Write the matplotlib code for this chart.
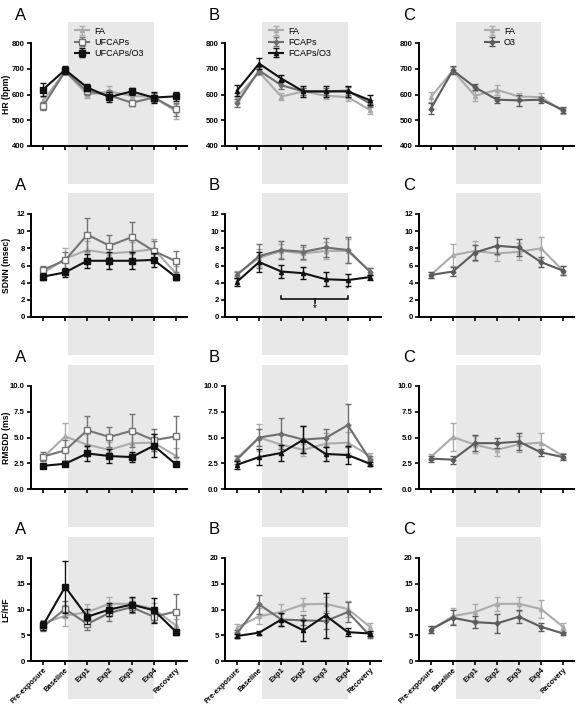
import numpy as np
import matplotlib
matplotlib.use("Agg")
import matplotlib.pyplot as plt

plt.rcParams['font.family'] = ['Liberation Sans', 'DejaVu Sans']

timepoints = ['Pre-exposure', 'Baseline', 'Exp1', 'Exp2', 'Exp3', 'Exp4', 'Recovery']
row_ylabels = ['HR (bpm)', 'SDNN (msec)', 'RMSDD (ms)', 'LF/HF']
row_yticks = [[400, 500, 600, 700, 800], [0, 2, 4, 6, 8, 10, 12],
              [0.0, 2.5, 5.0, 7.5, 10.0], [0, 5, 10, 15, 20]]
row_yticklabels = [['400', '500', '600', '700', '800'],
                   ['0', '2', '4', '6', '8', '10', '12'],
                   ['0.0', '2.5', '5.0', '7.5', '10.0'],
                   ['0', '5', '10', '15', '20']]
col_letters = ['A', 'B', 'C']
col_labels = [['FA', 'UFCAPs', 'UFCAPs/O3'], ['FA', 'FCAPs', 'FCAPs/O3'], ['FA', 'O3']]

# ---- HR
hr_A_fa = [575, 690, 600, 612, 595, 590, 535]
hr_A_fa_e = [15, 15, 15, 22, 15, 15, 30]
hr_A_uf = [554, 690, 612, 597, 568, 588, 542]
hr_A_uf_e = [15, 12, 15, 20, 12, 18, 25]
hr_A_ufo3 = [619, 696, 627, 590, 612, 588, 593]
hr_A_ufo3_e = [25, 15, 15, 20, 15, 20, 18]
hr_B_fa = [590, 687, 592, 612, 595, 590, 540]
hr_B_fa_e = [15, 12, 15, 15, 12, 15, 15]
hr_B_f = [566, 693, 636, 612, 612, 615, 565]
hr_B_f_e = [15, 15, 15, 15, 15, 15, 15]
hr_B_fo3 = [615, 720, 662, 612, 612, 612, 578]
hr_B_fo3_e = [20, 22, 15, 20, 22, 20, 20]
hr_C_fa = [590, 693, 595, 618, 592, 590, 535]
hr_C_fa_e = [20, 15, 20, 18, 12, 15, 12]
hr_C_o3 = [545, 694, 628, 580, 577, 580, 540]
hr_C_o3_e = [22, 15, 12, 12, 20, 12, 12]

# ---- SDNN
sd_A_fa = [5.1, 6.8, 7.8, 7.4, 7.6, 7.9, 5.1]
sd_A_fa_e = [0.5, 1.2, 1.0, 1.2, 1.1, 1.2, 0.8]
sd_A_uf = [5.5, 6.6, 9.6, 8.3, 9.3, 7.7, 6.5]
sd_A_uf_e = [0.4, 1.0, 1.9, 1.3, 1.8, 1.2, 1.2]
sd_A_ufo3 = [4.7, 5.2, 6.55, 6.55, 6.55, 6.65, 4.65]
sd_A_ufo3_e = [0.4, 0.5, 0.8, 1.0, 1.0, 0.8, 0.3]
sd_B_fa = [5.0, 6.9, 7.7, 7.4, 7.7, 7.7, 5.3]
sd_B_fa_e = [0.4, 1.0, 0.8, 0.8, 1.0, 1.4, 0.4]
sd_B_f = [4.9, 7.1, 7.8, 7.6, 8.1, 7.8, 5.3]
sd_B_f_e = [0.4, 1.4, 1.1, 0.8, 1.1, 1.5, 0.4]
sd_B_fo3 = [4.1, 6.4, 5.3, 5.1, 4.4, 4.3, 4.65]
sd_B_fo3_e = [0.5, 1.2, 0.8, 0.7, 0.8, 0.7, 0.3]
sd_C_fa = [4.9, 7.2, 7.7, 7.4, 7.6, 8.0, 5.4]
sd_C_fa_e = [0.4, 1.3, 1.2, 0.9, 1.0, 1.3, 0.5]
sd_C_o3 = [4.9, 5.3, 7.5, 8.3, 8.1, 6.4, 5.4]
sd_C_o3_e = [0.4, 0.5, 0.9, 1.0, 1.0, 0.6, 0.5]

# ---- RMSSD
rm_A_fa = [3.05, 5.1, 4.3, 3.8, 4.45, 4.5, 3.2]
rm_A_fa_e = [0.3, 1.35, 1.0, 0.8, 1.0, 0.8, 0.8]
rm_A_uf = [3.15, 3.75, 5.7, 5.05, 5.65, 4.75, 5.1]
rm_A_uf_e = [0.4, 1.0, 1.4, 1.0, 1.6, 1.1, 2.0]
rm_A_ufo3 = [2.25, 2.45, 3.45, 3.2, 3.1, 4.2, 2.4]
rm_A_ufo3_e = [0.2, 0.25, 0.7, 0.7, 0.5, 1.1, 0.2]
rm_B_fa = [3.0, 5.0, 4.3, 3.8, 4.4, 4.5, 3.2]
rm_B_fa_e = [0.3, 1.3, 1.0, 0.6, 1.0, 1.0, 0.3]
rm_B_f = [2.85, 5.0, 5.35, 4.8, 4.95, 6.2, 2.85]
rm_B_f_e = [0.4, 0.8, 1.5, 1.3, 0.9, 2.1, 0.4]
rm_B_fo3 = [2.35, 3.1, 3.5, 4.8, 3.4, 3.3, 2.45]
rm_B_fo3_e = [0.4, 0.8, 0.8, 1.3, 0.7, 0.9, 0.2]
rm_C_fa = [3.1, 5.05, 4.3, 3.8, 4.35, 4.5, 3.2]
rm_C_fa_e = [0.3, 1.4, 0.8, 0.6, 0.8, 0.9, 0.3]
rm_C_o3 = [2.95, 2.85, 4.45, 4.45, 4.6, 3.55, 3.1]
rm_C_o3_e = [0.3, 0.4, 0.8, 0.5, 0.8, 0.3, 0.3]

# ---- LF/HF
lf_A_fa = [7.3, 8.8, 9.5, 11.1, 11.1, 10.1, 6.9]
lf_A_fa_e = [0.6, 2.0, 1.5, 1.3, 1.2, 1.2, 1.2]
lf_A_uf = [6.65, 10.1, 7.2, 9.35, 10.45, 8.6, 9.6]
lf_A_uf_e = [0.8, 1.6, 1.2, 1.5, 1.2, 1.0, 3.5]
lf_A_ufo3 = [6.9, 14.4, 8.6, 10.0, 10.95, 9.85, 5.7]
lf_A_ufo3_e = [0.8, 5.0, 1.5, 1.2, 1.5, 2.4, 0.6]
lf_B_fa = [6.45, 8.7, 9.5, 11.0, 11.1, 10.1, 6.65]
lf_B_fa_e = [0.8, 1.5, 1.5, 1.3, 1.3, 1.5, 0.8]
lf_B_f = [5.35, 11.0, 8.05, 7.9, 7.75, 9.5, 4.95]
lf_B_f_e = [0.6, 1.9, 1.2, 1.0, 1.5, 2.0, 0.5]
lf_B_fo3 = [4.85, 5.5, 8.05, 5.95, 8.85, 5.6, 5.35]
lf_B_fo3_e = [0.4, 0.4, 1.2, 2.0, 4.3, 0.8, 0.5]
lf_C_fa = [6.1, 8.7, 9.5, 11.1, 11.1, 10.1, 6.65]
lf_C_fa_e = [0.7, 1.6, 1.5, 1.3, 1.3, 1.7, 0.7]
lf_C_o3 = [6.1, 8.4, 7.55, 7.3, 8.6, 6.65, 5.35]
lf_C_o3_e = [0.7, 1.5, 1.2, 1.8, 1.3, 0.8, 0.3]

data = [
    [[(hr_A_fa, hr_A_fa_e), (hr_A_uf, hr_A_uf_e), (hr_A_ufo3, hr_A_ufo3_e)],
     [(hr_B_fa, hr_B_fa_e), (hr_B_f, hr_B_f_e), (hr_B_fo3, hr_B_fo3_e)],
     [(hr_C_fa, hr_C_fa_e), (hr_C_o3, hr_C_o3_e)]],
    [[(sd_A_fa, sd_A_fa_e), (sd_A_uf, sd_A_uf_e), (sd_A_ufo3, sd_A_ufo3_e)],
     [(sd_B_fa, sd_B_fa_e), (sd_B_f, sd_B_f_e), (sd_B_fo3, sd_B_fo3_e)],
     [(sd_C_fa, sd_C_fa_e), (sd_C_o3, sd_C_o3_e)]],
    [[(rm_A_fa, rm_A_fa_e), (rm_A_uf, rm_A_uf_e), (rm_A_ufo3, rm_A_ufo3_e)],
     [(rm_B_fa, rm_B_fa_e), (rm_B_f, rm_B_f_e), (rm_B_fo3, rm_B_fo3_e)],
     [(rm_C_fa, rm_C_fa_e), (rm_C_o3, rm_C_o3_e)]],
    [[(lf_A_fa, lf_A_fa_e), (lf_A_uf, lf_A_uf_e), (lf_A_ufo3, lf_A_ufo3_e)],
     [(lf_B_fa, lf_B_fa_e), (lf_B_f, lf_B_f_e), (lf_B_fo3, lf_B_fo3_e)],
     [(lf_C_fa, lf_C_fa_e), (lf_C_o3, lf_C_o3_e)]],
]

# significance bracket in SDNN panel B (Exp1..Exp4)
sig_from, sig_to, sig_y = 2, 5, 2.1

# styles per column: (color, marker, facecolor, size)
styles = [
    [('#ababab', '^', '#ababab', 3), ('#747474', 's', 'white', 4), ('#111111', 's', '#111111', 4)],
    [('#ababab', '^', '#ababab', 3), ('#6e6e6e', 'D', '#6e6e6e', 2.5), ('#111111', '^', '#111111', 3)],
    [('#ababab', '^', '#ababab', 3), ('#5c5c5c', 'D', '#5c5c5c', 2.5)],
]

W, H = 582, 704
fig = plt.figure(figsize=(W / 100, H / 100), dpi=100)
col_left = [31, 225, 419]
col_w = [156, 156, 155]
row_top = [43, 214, 386, 558]
ax_h = 103
leg_x = [75, 269, 485]

x = np.arange(len(timepoints))
for r in range(4):
    for c in range(3):
        ax = fig.add_axes([col_left[c] / W, 1 - (row_top[r] + ax_h) / H, col_w[c] / W, ax_h / H])
        ax.patch.set_alpha(0)
        ax.axvspan(1.13, 5.0, ymin=-0.37, ymax=1.2, color='#e8e8e8', lw=0, zorder=0, clip_on=False)
        lines = []
        for k, (vals, errs) in enumerate(data[r][c]):
            col, mk, fc, ms = styles[c][k]
            eb = ax.errorbar(x, vals, yerr=errs, color=col, marker=mk, mfc=fc, mec=col, ms=ms,
                             lw=1.5, elinewidth=1, capsize=2, capthick=1, zorder=3 + k)
            lines.append(eb)
        yt = row_yticks[r]
        ax.set_ylim(yt[0], yt[-1])
        ax.set_yticks(yt)
        ax.set_yticklabels(row_yticklabels[r], fontsize=5.6, fontweight='bold')
        ax.set_xlim(-0.54, 6.5)
        ax.set_xticks(x)
        if r == 3:
            ax.set_xticklabels(timepoints, rotation=45, ha='right', rotation_mode='anchor',
                               fontsize=5.4, fontweight='bold')
        else:
            ax.set_xticklabels([])
        ax.tick_params(length=3, width=1.2, pad=1.5)
        ax.tick_params(axis='x', pad=1)
        for s in ['top', 'right']:
            ax.spines[s].set_visible(False)
        for s in ['left', 'bottom']:
            ax.spines[s].set_linewidth(1.4)
        if c == 0:
            ax.set_ylabel(row_ylabels[r], fontsize=6.2, fontweight='bold')
            ax.yaxis.set_label_coords(-0.13, 0.5)
        fig.text((col_left[c] - 16) / W, 1 - (row_top[r] - 28) / H, col_letters[c],
                 fontsize=12, ha='left', va='center')
        if r == 0:
            ax.legend(lines, col_labels[c], loc='upper left', frameon=False, fontsize=6.5,
                      bbox_to_anchor=((leg_x[c] - col_left[c]) / col_w[c], 1.16),
                      borderpad=0, borderaxespad=0, handlelength=1.5, handletextpad=0.6,
                      labelspacing=0.25)
        if r == 1 and c == 1:
            ax.plot([sig_from, sig_from, sig_to, sig_to], [sig_y + 0.4, sig_y, sig_y, sig_y + 0.4],
                    color='#111111', lw=1.2)
            mid = (sig_from + sig_to) / 2
            ax.plot([mid, mid], [sig_y, sig_y - 0.5], color='#111111', lw=1.2)
            ax.text(mid, sig_y - 1.6, '*', ha='center', va='bottom', fontsize=7)
            ax.text(sig_to, sd_B_fo3[5] - 1.4, '*', ha='center', va='bottom', fontsize=6)

fig.savefig('out.png', dpi=100)
